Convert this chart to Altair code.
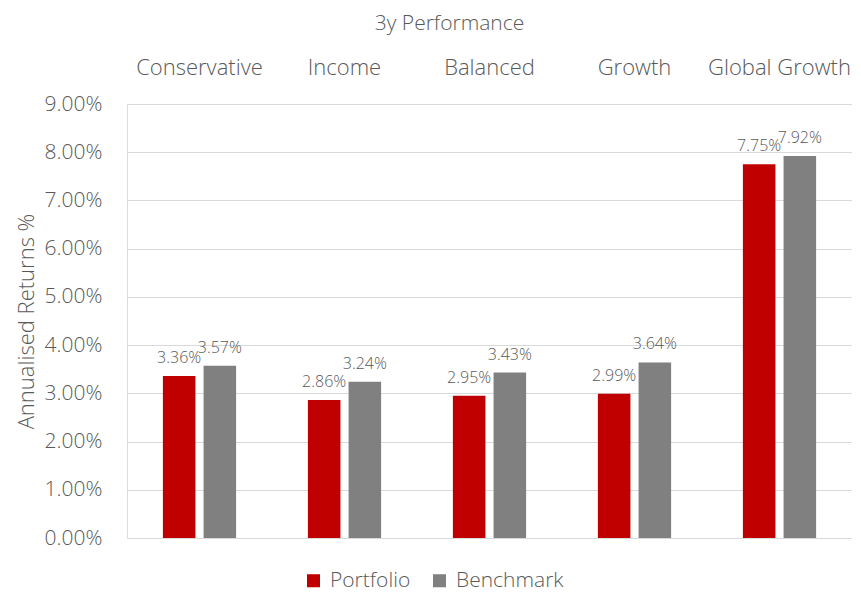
import altair as alt
import pandas as pd

categories = ["Conservative", "Income", "Balanced", "Growth", "Global Growth"]
series = ["Portfolio", "Benchmark"]
portfolio = [0.0336, 0.0286, 0.0295, 0.0299, 0.0775]
benchmark = [0.0357, 0.0324, 0.0343, 0.0364, 0.0792]
y_ticks = [0.00, 0.01, 0.02, 0.03, 0.04, 0.05, 0.06, 0.07, 0.08, 0.09]
colors = ["#C00000", "#808080"]

rows = []
for c, p, b in zip(categories, portfolio, benchmark):
    rows.append({"Category": c, "Series": "Portfolio", "Value": p})
    rows.append({"Category": c, "Series": "Benchmark", "Value": b})
df = pd.DataFrame(rows)

FONT = "Open Sans"
TXT = "#595959"

x = alt.X(
    "Category:N",
    sort=categories,
    scale=alt.Scale(paddingInner=0.495, paddingOuter=0.2475),
    axis=alt.Axis(orient="top", title=None, labelAngle=0, ticks=False, domain=False,
                  labelFontSize=22, labelColor=TXT, labelPadding=25, labelFont=FONT,
                  labelFontWeight=300),
)
xo = alt.XOffset("Series:N", sort=series, scale=alt.Scale(paddingInner=0.2, paddingOuter=0))
y = alt.Y(
    "Value:Q",
    scale=alt.Scale(domain=[0, 0.09]),
    axis=alt.Axis(format=".2%", values=y_ticks, title="Annualised Returns %",
                  ticks=False, domain=False, gridColor="#D9D9D9", labelFontSize=21,
                  labelColor=TXT, labelPadding=25, titleFontSize=22, titleColor=TXT,
                  titleFontWeight=300, labelFontWeight=300, titleFont=FONT, labelFont=FONT,
                  titlePadding=6),
)
color = alt.Color(
    "Series:N",
    sort=series,
    scale=alt.Scale(domain=series, range=colors),
    legend=alt.Legend(orient="none", direction="horizontal", legendX=176, legendY=466,
                      title=None, symbolType="square", symbolSize=170,
                      symbolStrokeWidth=0, labelFontSize=21, labelColor=TXT, labelFont=FONT,
                      labelFontWeight=300, columnPadding=18, labelOffset=6, symbolOpacity=1),
)

bars = alt.Chart(df).mark_bar().encode(x=x, xOffset=xo, y=y, color=color)
labels = alt.Chart(df).mark_text(baseline="bottom", dy=-10, fontSize=16, color=TXT,
                                 font=FONT, fontWeight=300).encode(
    x=x, xOffset=xo, y=y, text=alt.Text("Value:Q", format=".2%")
)

chart = (
    alt.layer(bars, labels)
    .properties(
        width=725, height=434,
        title=alt.TitleParams("3y Performance", fontSize=21, color=TXT, font=FONT,
                              fontWeight=300, offset=22, anchor="middle", dx=-40),
        padding={"left": 7, "right": 0, "top": 5, "bottom": 8},
    )
    .configure_view(stroke=None)
    .configure(background="white")
)

chart.save("out.html", embed_options={"renderer": "svg", "actions": False})
